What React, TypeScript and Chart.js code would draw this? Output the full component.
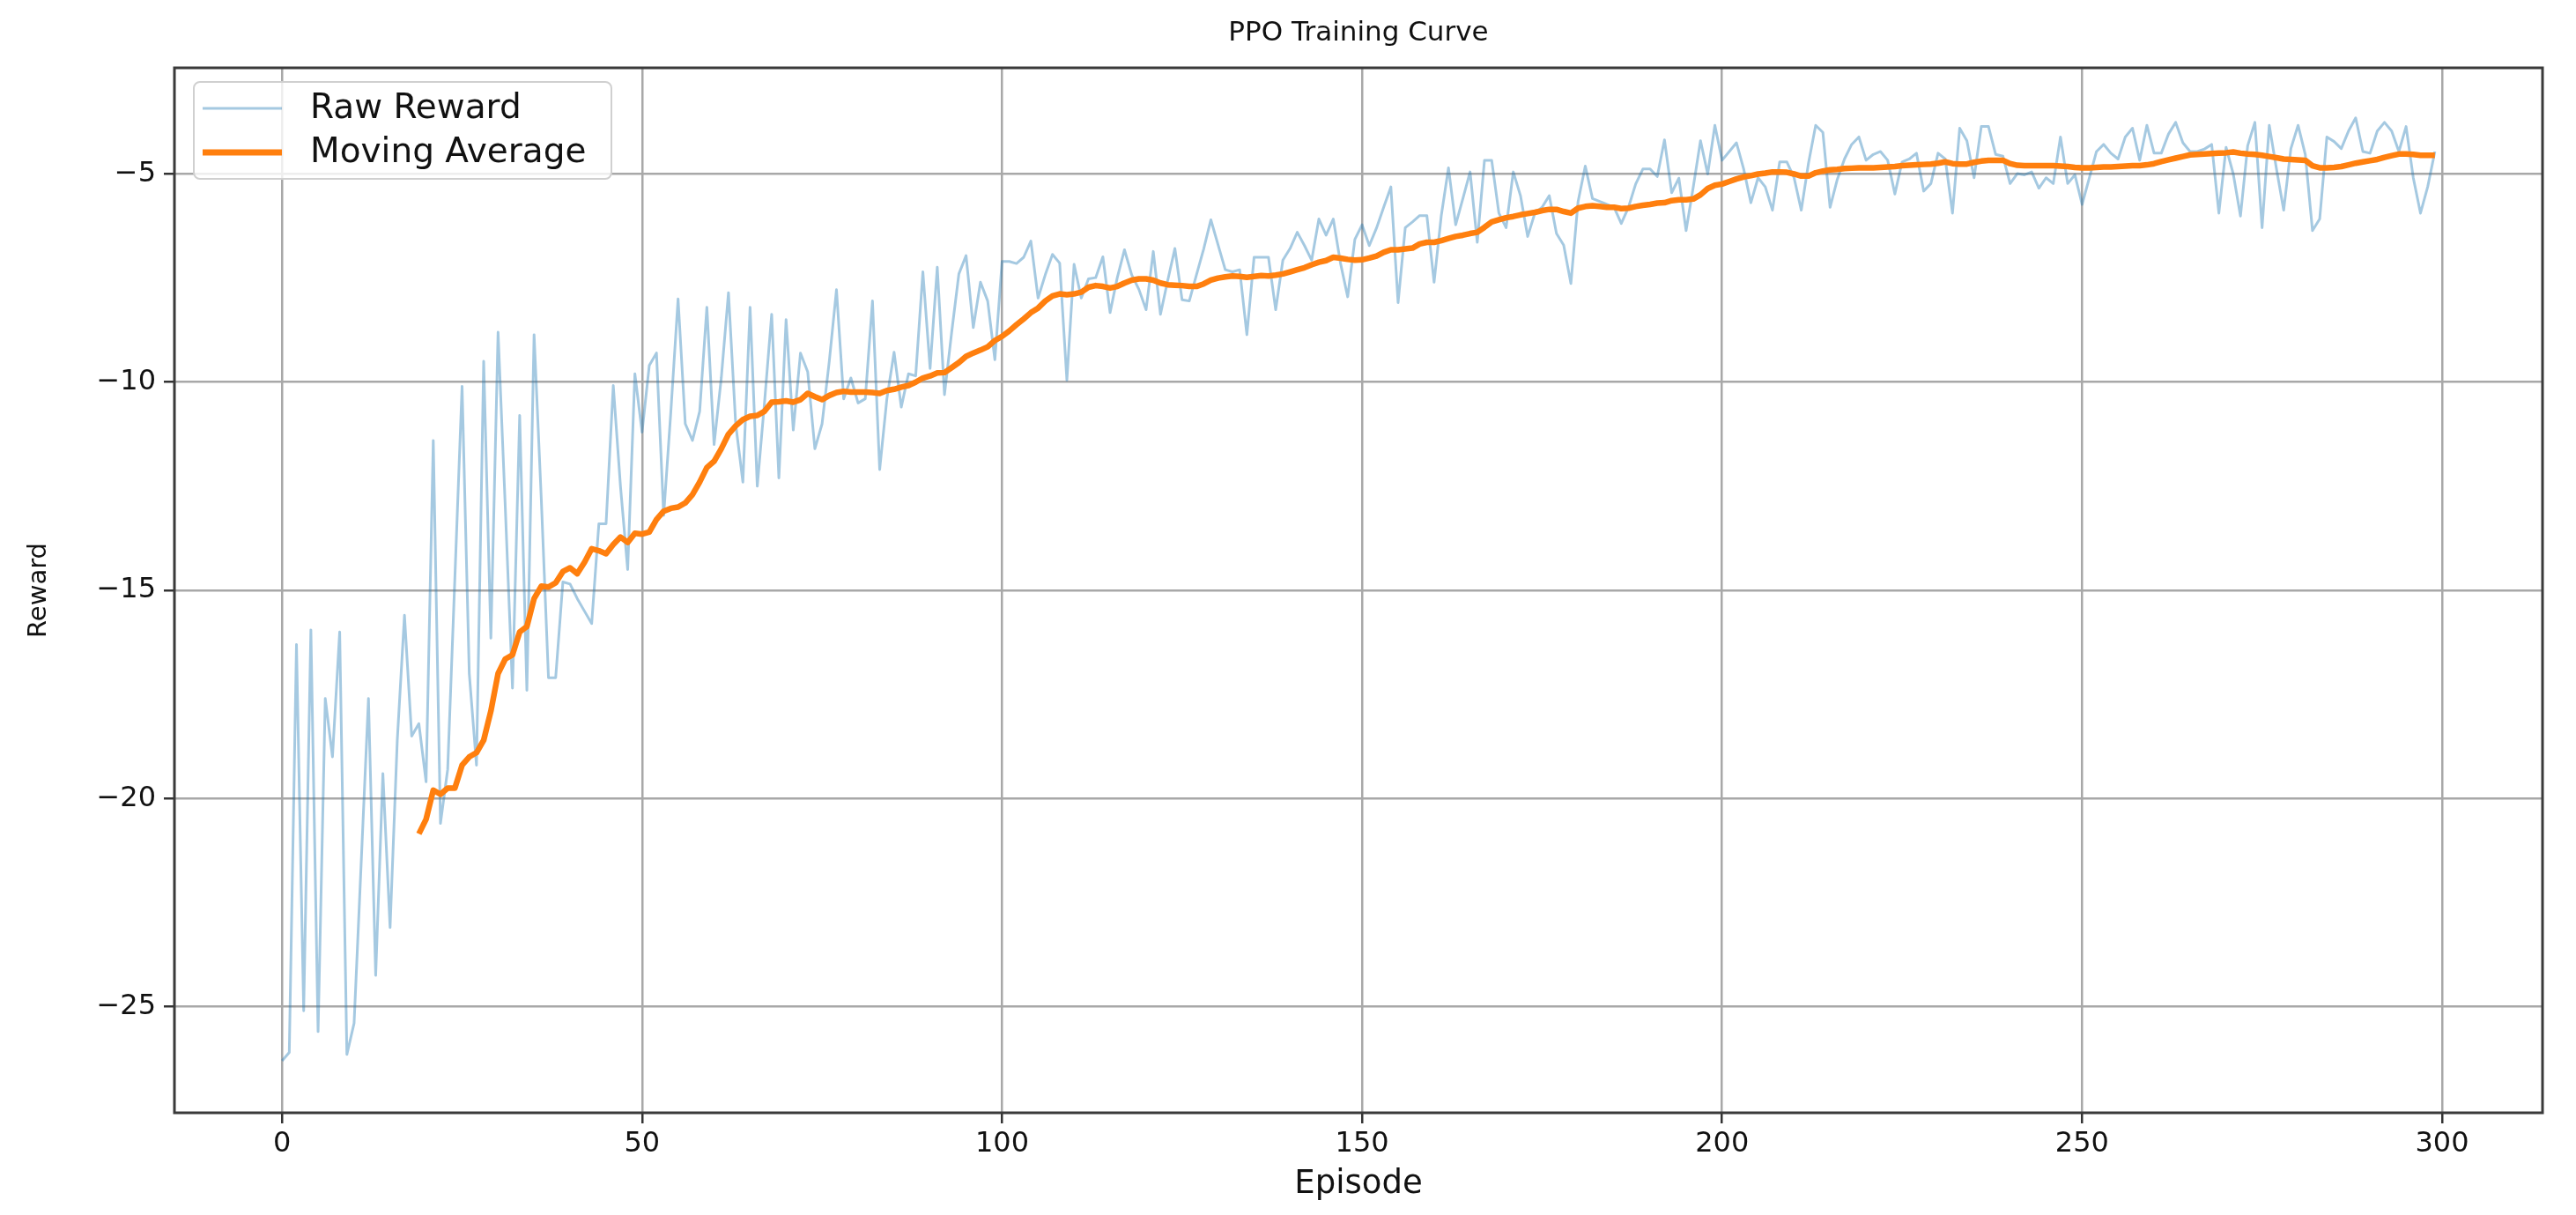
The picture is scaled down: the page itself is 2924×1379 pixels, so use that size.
import React, { useEffect, useRef } from "react";
import { Chart, registerables } from "chart.js";

Chart.register(...registerables);

const FONT = "'DejaVu Sans', 'Liberation Sans', sans-serif";

// Raw episode rewards, episodes 0..299
const rawReward: number[] = [
  -26.3, -26.1, -16.3, -25.1, -15.95, -25.6, -17.6, -19.0, -16.0, -26.15,
  -25.4, -21.5, -17.6, -24.25, -19.4, -23.1, -18.6, -15.6, -18.5, -18.2,
  -19.6, -11.4, -20.6, -19.3, -14.7, -10.1, -17.0, -19.2, -9.5, -16.15,
  -8.8, -13.0, -17.35, -10.8, -17.4, -8.86, -12.8, -17.1, -17.1, -14.8,
  -14.85, -15.2, -15.5, -15.8, -13.4, -13.4, -10.08, -12.5, -14.5, -9.8,
  -11.2, -9.6, -9.3, -13.2, -10.7, -8.0, -11.0, -11.4, -10.7, -8.2,
  -11.5, -9.9, -7.85, -11.0, -12.4, -8.2, -12.5, -10.5, -8.37, -12.3,
  -8.5, -11.15, -9.3, -9.75, -11.6, -11.0, -9.5, -7.78, -10.4, -9.9,
  -10.5, -10.4, -8.05, -12.1, -10.4, -9.28, -10.6, -9.8, -9.85, -7.35,
  -9.67, -7.24, -10.3, -8.8, -7.4, -6.96, -8.69, -7.6, -8.05, -9.46,
  -7.1, -7.1, -7.15, -7.0, -6.61, -7.98, -7.42, -6.93, -7.14, -9.95,
  -7.17, -7.98, -7.52, -7.49, -6.99, -8.33, -7.49, -6.82, -7.42, -7.77,
  -8.26, -6.86, -8.37, -7.56, -6.79, -8.02, -8.05, -7.42, -6.8, -6.1,
  -6.7, -7.3, -7.35, -7.3, -8.86, -7.0, -7.0, -7.0, -8.26, -7.07,
  -6.79, -6.4, -6.72, -7.07, -6.08, -6.47, -6.08, -7.14, -7.95, -6.57,
  -6.22, -6.72, -6.3, -5.8, -5.31, -8.09, -6.29, -6.15, -6.0, -6.0,
  -7.6, -6.0, -4.85, -6.22, -5.59, -4.95, -6.64, -4.67, -4.67, -5.94,
  -6.29, -4.95, -5.52, -6.5, -5.94, -5.8, -5.52, -6.43, -6.71, -7.63,
  -5.66, -4.81, -5.59, -5.66, -5.73, -5.8, -6.19, -5.8, -5.24, -4.88,
  -4.88, -5.06, -4.18, -5.45, -5.1, -6.36, -5.31, -4.2, -5.0, -3.83,
  -4.67, -4.46, -4.25, -4.88, -5.69, -5.09, -5.31, -5.87, -4.71, -4.71,
  -5.09, -5.87, -4.74, -3.83, -4.0, -5.8, -5.13, -4.64, -4.29, -4.11,
  -4.67, -4.53, -4.46, -4.67, -5.48, -4.71, -4.64, -4.5, -5.41, -5.23,
  -4.5, -4.64, -5.94, -3.9, -4.2, -5.09, -3.86, -3.86, -4.53, -4.57,
  -5.23, -4.99, -5.02, -4.95, -5.34, -5.09, -5.23, -4.11, -5.23, -5.02,
  -5.73, -5.1, -4.46, -4.29, -4.5, -4.64, -4.11, -3.9, -4.67, -3.83,
  -4.5, -4.5, -4.04, -3.76, -4.25, -4.46, -4.46, -4.4, -4.29, -5.94,
  -4.36, -5.0, -6.01, -4.32, -3.76, -6.29, -3.83, -4.88, -5.87, -4.39,
  -3.83, -4.53, -6.36, -6.08, -4.11, -4.22, -4.39, -3.97, -3.65, -4.46,
  -4.5, -3.97, -3.76, -3.97, -4.46, -3.86, -5.09, -5.94, -5.31, -4.46,
];

// Moving average, episodes 19..299
const MA_FIRST_EPISODE = 19;
const movingAverage: number[] = [
  -20.85, -20.5, -19.8, -19.9, -19.75, -19.75, -19.2, -19.0, -18.9, -18.6,
  -17.9, -17.0, -16.65, -16.55, -16.0, -15.87, -15.2, -14.9, -14.92, -14.82,
  -14.55, -14.46, -14.6, -14.33, -14.0, -14.05, -14.12, -13.9, -13.72, -13.85,
  -13.63, -13.65, -13.6, -13.3, -13.1, -13.03, -13.0, -12.9, -12.7, -12.4,
  -12.05, -11.9, -11.6, -11.25, -11.05, -10.9, -10.82, -10.8, -10.7, -10.48,
  -10.47, -10.45, -10.48, -10.42, -10.27, -10.35, -10.42, -10.32, -10.25, -10.22,
  -10.24, -10.24, -10.24, -10.25, -10.27, -10.2, -10.17, -10.12, -10.08, -10.0,
  -9.9, -9.85, -9.78, -9.77, -9.65, -9.53, -9.38, -9.3, -9.23, -9.15,
  -9.0, -8.9, -8.77, -8.62, -8.48, -8.33, -8.22, -8.05, -7.93, -7.88,
  -7.9, -7.88, -7.84, -7.72, -7.68, -7.7, -7.74, -7.7, -7.62, -7.55,
  -7.52, -7.52, -7.55, -7.62, -7.66, -7.67, -7.68, -7.7, -7.7, -7.64,
  -7.55, -7.5, -7.47, -7.45, -7.46, -7.48, -7.46, -7.44, -7.45, -7.43,
  -7.4, -7.35, -7.3, -7.25, -7.18, -7.12, -7.08, -7.0, -7.02, -7.05,
  -7.07, -7.06, -7.02, -6.97, -6.88, -6.82, -6.82, -6.8, -6.78, -6.68,
  -6.64, -6.64, -6.6, -6.55, -6.5, -6.47, -6.43, -6.4, -6.28, -6.15,
  -6.1, -6.05, -6.02, -5.98, -5.95, -5.92, -5.88, -5.85, -5.85, -5.9,
  -5.94, -5.82, -5.78, -5.76, -5.78, -5.8, -5.8, -5.83, -5.82, -5.78,
  -5.75, -5.73, -5.7, -5.69, -5.64, -5.62, -5.62, -5.6, -5.5, -5.35,
  -5.27, -5.24, -5.18, -5.12, -5.07, -5.04, -5.0, -4.98, -4.95, -4.95,
  -4.96, -5.0, -5.05, -5.05, -4.97, -4.93, -4.9, -4.89, -4.87, -4.86,
  -4.85, -4.85, -4.85, -4.84, -4.83, -4.82, -4.8, -4.79, -4.78, -4.77,
  -4.76, -4.74, -4.71, -4.75, -4.76, -4.76, -4.72, -4.69, -4.67, -4.67,
  -4.67, -4.75, -4.79, -4.8, -4.8, -4.8, -4.8, -4.8, -4.81, -4.82,
  -4.84, -4.85, -4.85, -4.84, -4.83, -4.83, -4.82, -4.81, -4.8, -4.8,
  -4.78, -4.75, -4.7, -4.66, -4.62, -4.58, -4.54, -4.53, -4.52, -4.51,
  -4.5, -4.49, -4.47, -4.5, -4.52, -4.53, -4.55, -4.58, -4.61, -4.64,
  -4.65, -4.66, -4.67, -4.8, -4.85, -4.85, -4.84, -4.82, -4.78, -4.74,
  -4.71, -4.68, -4.65, -4.6, -4.56, -4.52, -4.52, -4.53, -4.55, -4.55,
  -4.55,
];

const seriesLabels = ["Raw Reward", "Moving Average"];
const xTickValues = [0, 50, 100, 150, 200, 250, 300];
const yTickValues = [-25, -20, -15, -10, -5];
const xLimits = [-14.95, 313.95];
const yLimits = [-27.55, -2.45];
const chartTitle = "PPO Training Curve";
const xTitle = "Episode";
const yTitle = "Reward";

const W = 2924;
const H = 1379;

export default function App() {
  const ref = useRef<HTMLCanvasElement | null>(null);

  useEffect(() => {
    document.body.style.margin = "0";
    const canvas = ref.current;
    if (!canvas) return;

    const rawColor = "rgba(31,119,180,0.4)";
    const maColor = "#ff7f0e";
    const gridColor = "#a8a8a8";
    const textColor = "#111111";

    const framePlugin = {
      id: "frame",
      afterDatasetsDraw(chart: any) {
        const { ctx, chartArea } = chart;
        ctx.save();
        ctx.strokeStyle = "#3a3a3a";
        ctx.lineWidth = 3;
        ctx.strokeRect(
          chartArea.left,
          chartArea.top,
          chartArea.right - chartArea.left,
          chartArea.bottom - chartArea.top
        );
        ctx.restore();
      },
    };

    const legendPlugin = {
      id: "boxLegend",
      afterDraw(chart: any) {
        const { ctx, chartArea } = chart;
        const bx = chartArea.left + 22;
        const by = chartArea.top + 16;
        const bw = 474;
        const bh = 110;
        const r = 7;
        ctx.save();
        ctx.beginPath();
        ctx.moveTo(bx + r, by);
        ctx.lineTo(bx + bw - r, by);
        ctx.arcTo(bx + bw, by, bx + bw, by + r, r);
        ctx.lineTo(bx + bw, by + bh - r);
        ctx.arcTo(bx + bw, by + bh, bx + bw - r, by + bh, r);
        ctx.lineTo(bx + r, by + bh);
        ctx.arcTo(bx, by + bh, bx, by + bh - r, r);
        ctx.lineTo(bx, by + r);
        ctx.arcTo(bx, by, bx + r, by, r);
        ctx.closePath();
        ctx.fillStyle = "rgba(255,255,255,0.8)";
        ctx.fill();
        ctx.strokeStyle = "#d0d0d0";
        ctx.lineWidth = 2;
        ctx.stroke();

        const rows = [
          { y: by + 30, color: rawColor, width: 3, label: seriesLabels[0] },
          { y: by + 80, color: maColor, width: 7, label: seriesLabels[1] },
        ];
        ctx.font = `39px ${FONT}`;
        ctx.textBaseline = "middle";
        ctx.textAlign = "left";
        for (const row of rows) {
          ctx.beginPath();
          ctx.strokeStyle = row.color;
          ctx.lineWidth = row.width;
          ctx.moveTo(bx + 10, row.y);
          ctx.lineTo(bx + 100, row.y);
          ctx.stroke();
          ctx.fillStyle = textColor;
          ctx.fillText(row.label, bx + 132, row.y + 1);
        }
        ctx.restore();
      },
    };

    const chart = new Chart(canvas, {
      type: "line",
      data: {
        datasets: [
          {
            label: seriesLabels[0],
            data: rawReward.map((y, i) => ({ x: i, y })),
            borderColor: rawColor,
            backgroundColor: rawColor,
            borderWidth: 3,
            pointRadius: 0,
            tension: 0,
            fill: false,
            borderJoinStyle: "round",
            order: 1,
          },
          {
            label: seriesLabels[1],
            data: movingAverage.map((y, i) => ({ x: i + MA_FIRST_EPISODE, y })),
            borderColor: maColor,
            backgroundColor: maColor,
            borderWidth: 6.5,
            pointRadius: 0,
            tension: 0,
            fill: false,
            borderJoinStyle: "round",
            order: 0,
          },
        ],
      },
      options: {
        animation: false,
        responsive: false,
        maintainAspectRatio: false,
        events: [],
        layout: { padding: { left: 0, right: 38, top: 0, bottom: 0 } },
        plugins: {
          legend: { display: false },
          tooltip: { enabled: false },
          title: {
            display: true,
            fullSize: false,
            text: chartTitle,
            color: textColor,
            font: { family: FONT, size: 31, weight: "normal" },
            padding: { top: 19, bottom: 20.8 },
          },
        },
        scales: {
          x: {
            type: "linear",
            min: xLimits[0],
            max: xLimits[1],
            afterBuildTicks: (scale: any) => {
              scale.ticks = xTickValues.map((v) => ({ value: v }));
            },
            afterFit: (scale: any) => {
              scale.height = 116;
            },
            border: { display: false },
            grid: {
              color: gridColor,
              lineWidth: 2.5,
              tickColor: "#333333",
              tickLength: 12,
              tickWidth: 2.5,
              drawTicks: true,
            },
            ticks: {
              color: textColor,
              font: { family: FONT, size: 32 },
              padding: 4,
              maxRotation: 0,
              autoSkip: false,
              callback: (v: any) => String(v),
            },
            title: {
              display: true,
              text: xTitle,
              color: textColor,
              font: { family: FONT, size: 37 },
              padding: { top: 0, bottom: 12 },
            },
          },
          y: {
            type: "linear",
            min: yLimits[0],
            max: yLimits[1],
            afterBuildTicks: (scale: any) => {
              scale.ticks = yTickValues.map((v) => ({ value: v }));
            },
            afterFit: (scale: any) => {
              scale.width = 198;
            },
            border: { display: false },
            grid: {
              color: gridColor,
              lineWidth: 2.5,
              tickColor: "#333333",
              tickLength: 12,
              tickWidth: 2.5,
              drawTicks: true,
            },
            ticks: {
              color: textColor,
              font: { family: FONT, size: 32 },
              padding: 9,
              autoSkip: false,
              callback: (v: any) => String(v).replace("-", "\u2212"),
            },
            title: {
              display: true,
              text: yTitle,
              color: textColor,
              font: { family: FONT, size: 29 },
              padding: { top: 27, bottom: 0 },
            },
          },
        },
      },
      plugins: [framePlugin, legendPlugin],
    } as any);

    return () => {
      chart.destroy();
    };
  }, []);

  return (
    <div style={{ width: W, height: H, background: "#ffffff" }}>
      <canvas ref={ref} width={W} height={H} style={{ display: "block" }} />
    </div>
  );
}
